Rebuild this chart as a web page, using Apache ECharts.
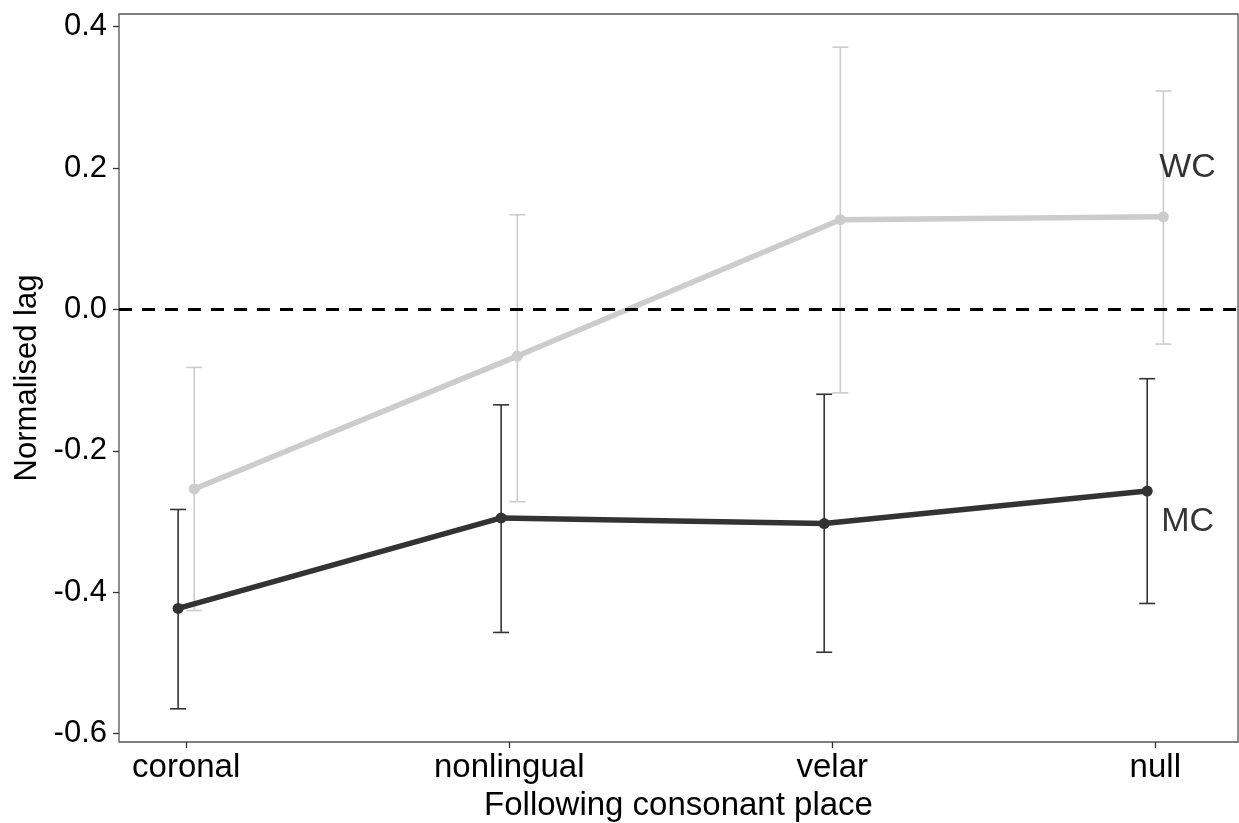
<!DOCTYPE html>
<html>
<head>
<meta charset="utf-8">
<script src="https://cdn.jsdelivr.net/npm/echarts@6/dist/echarts.min.js"></script>
<style>
html,body{margin:0;padding:0;background:#fff;}
#chart{width:1239px;height:823px;}
</style>
</head>
<body>
<div id="chart"></div>
<script>
// ---- data ----
const categories = ['coronal', 'nonlingual', 'velar', 'null'];
const wcMean = [-0.254, -0.066, 0.127, 0.131];
const wcLow  = [-0.426, -0.272, -0.118, -0.049];
const wcHigh = [-0.082, 0.134, 0.371, 0.309];
const mcMean = [-0.423, -0.295, -0.303, -0.257];
const mcLow  = [-0.565, -0.457, -0.485, -0.416];
const mcHigh = [-0.283, -0.135, -0.120, -0.098];
const yTicks = [-0.6, -0.4, -0.2, 0, 0.2, 0.4];
const xTicks = [1, 2, 3, 4];
const annotLabels = ['WC', 'MC'];
const annotX = [4.1, 4.1];
const annotY = [0.2, -0.3];
const refLine = 0;

// ---- styling ----
const dodge = 0.025;
const wcColor = '#cccccc';
const mcColor = '#333333';
const font = '"Liberation Sans", Arial, sans-serif';

function pts(mean, off) { return categories.map((c, i) => [i + 1 + off, mean[i]]); }
function bars(lo, hi, off) { return categories.map((c, i) => [i + 1 + off, lo[i], hi[i]]); }

function errRender(color, lw) {
  return function (params, api) {
    const x = api.value(0), lo = api.value(1), hi = api.value(2);
    const a = api.coord([x, lo]), b = api.coord([x, hi]);
    const hw = 8;
    const st = { stroke: color, lineWidth: lw };
    return { type: 'group', children: [
      { type: 'line', shape: { x1: a[0], y1: a[1], x2: b[0], y2: b[1] }, style: st },
      { type: 'line', shape: { x1: a[0] - hw, y1: a[1], x2: a[0] + hw, y2: a[1] }, style: st },
      { type: 'line', shape: { x1: b[0] - hw, y1: b[1], x2: b[0] + hw, y2: b[1] }, style: st }
    ]};
  };
}

const chart = echarts.init(document.getElementById('chart'), null, { renderer: 'canvas' });
chart.setOption({
  animation: false,
  backgroundColor: '#ffffff',
  textStyle: { fontFamily: font },
  grid: {
    left: 119, right: 1, top: 14, bottom: 81,
    show: true, borderColor: '#555555', borderWidth: 1.3, backgroundColor: 'transparent',
    containLabel: false, outerBoundsMode: 'none'
  },
  xAxis: {
    type: 'value', min: 0.792, max: 4.256,
    splitLine: { show: false },
    axisLine: { show: false, onZero: false },
    axisTick: { show: true, customValues: xTicks, length: 6, lineStyle: { color: '#333', width: 1.3 } },
    axisLabel: {
      customValues: xTicks, fontSize: 33, color: '#000', margin: 9, fontFamily: font,
      formatter: v => categories[Math.round(v) - 1]
    },
    name: 'Following consonant place', nameLocation: 'middle', nameGap: 47,
    nameTextStyle: { fontSize: 33, color: '#000', fontFamily: font }
  },
  yAxis: {
    type: 'value', min: -0.612, max: 0.418,
    splitLine: { show: false },
    axisLine: { show: false, onZero: false },
    axisTick: { show: true, customValues: yTicks, length: 6, lineStyle: { color: '#333', width: 1.3 } },
    axisLabel: {
      customValues: yTicks, fontSize: 31, color: '#000', margin: 12, fontFamily: font,
      formatter: v => Number(v).toFixed(1)
    },
    name: 'Normalised lag', nameLocation: 'middle', nameGap: 72, nameRotate: 90,
    nameTextStyle: { fontSize: 31, color: '#000', fontFamily: font }
  },
  series: [
    {
      type: 'custom', name: 'WC err', renderItem: errRender(wcColor, 1.6),
      data: bars(wcLow, wcHigh, dodge), z: 2, silent: true
    },
    {
      type: 'line', name: 'WC', data: pts(wcMean, dodge),
      lineStyle: { color: wcColor, width: 5.5 }, itemStyle: { color: wcColor },
      symbol: 'circle', symbolSize: 11, showSymbol: true, z: 3,
      markLine: {
        silent: true, symbol: 'none', label: { show: false },
        lineStyle: { color: '#000', type: [13, 10], width: 2.8 },
        data: [{ yAxis: refLine }], z: 10
      }
    },
    {
      type: 'custom', name: 'MC err', renderItem: errRender(mcColor, 1.6),
      data: bars(mcLow, mcHigh, -dodge), z: 4, silent: true
    },
    {
      type: 'line', name: 'MC', data: pts(mcMean, -dodge),
      lineStyle: { color: mcColor, width: 5.5 }, itemStyle: { color: mcColor },
      symbol: 'circle', symbolSize: 11, showSymbol: true, z: 5
    },
    {
      type: 'scatter', name: 'labels', symbolSize: 0, z: 6,
      data: annotLabels.map((t, i) => ({ name: t, value: [annotX[i], annotY[i]] })),
      label: {
        show: true, position: [0, 0], align: 'center', verticalAlign: 'middle',
        formatter: p => p.name, fontSize: 34, color: '#000', fontFamily: font
      }
    }
  ]
});
</script>
</body>
</html>
